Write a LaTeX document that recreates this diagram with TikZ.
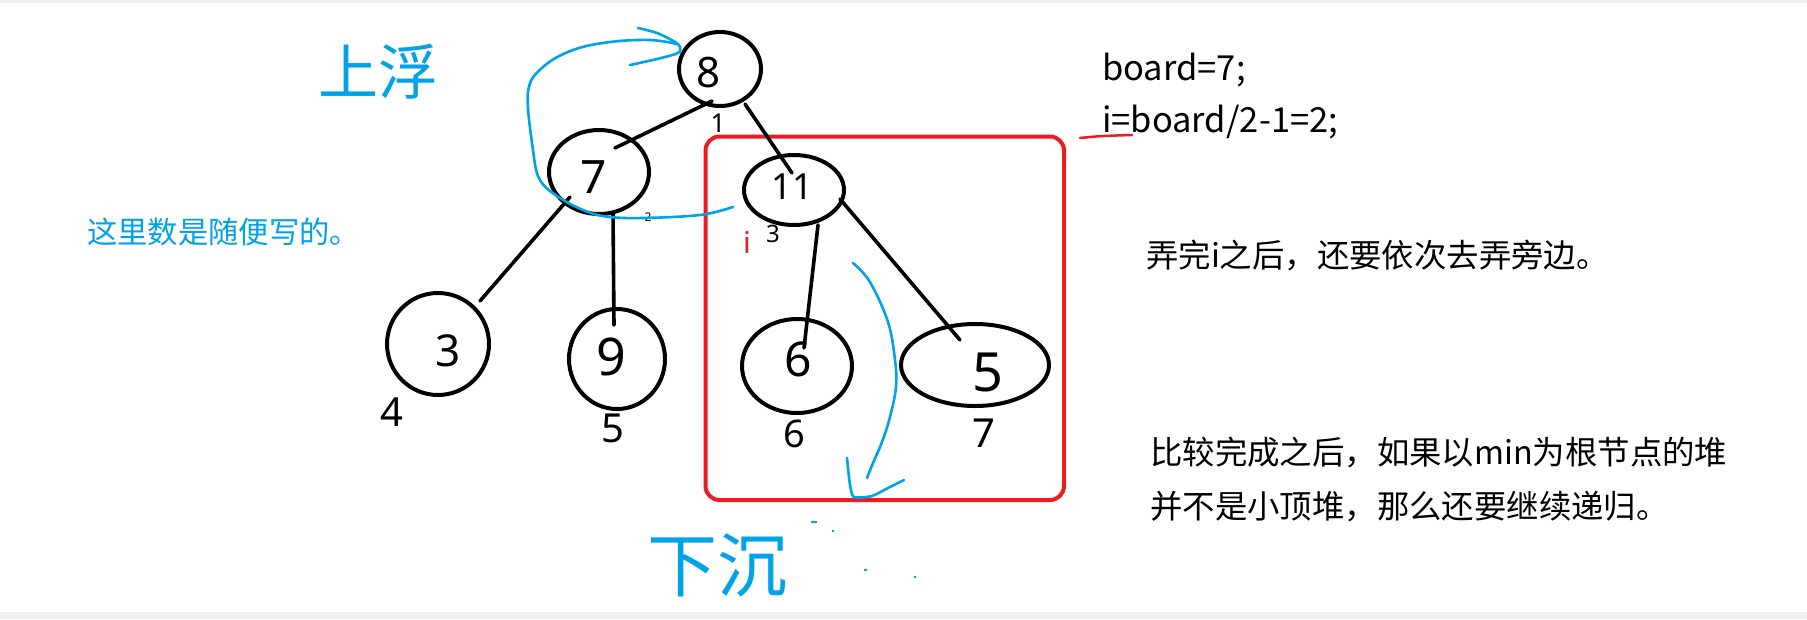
\documentclass[tikz,border=0pt]{standalone}
\usepackage{fontspec}
\setmainfont{Noto Sans CJK SC}
\newfontfamily\cjk{Noto Sans CJK SC}
\newfontfamily\hand{Noto Sans}
\usetikzlibrary{calc,shapes.geometric}
\definecolor{pblue}{HTML}{00A2E8}
\definecolor{pred}{HTML}{ED1C24}
\definecolor{pgray}{HTML}{F0F0F0}
\tikzset{
  heapnode/.style={draw, ellipse, line width=4pt, inner sep=0pt},
  tedge/.style={line width=3.6pt, line cap=round},
  bluepen/.style={pblue, line width=2.6pt, line cap=round, line join=round},
  digit/.style={inner sep=0pt, font=\hand\fontsize{#1}{#1}\selectfont},
  idx/.style={inner sep=0pt, font=\hand\fontsize{#1}{#1}\selectfont},
  txt/.style={inner sep=0pt, anchor=west, font=\cjk\fontsize{#1}{#1}\selectfont},
}
\begin{document}
\begin{tikzpicture}[x=1pt,y=-1pt]
\useasboundingbox (0,0) rectangle (1807,619);
\fill[white] (0,0) rectangle (1807,619);
\fill[pgray] (0,0) rectangle (1807,3);
\fill[pgray] (0,612) rectangle (1807,619);

% red box
\draw[pred, line width=4pt, rounded corners=14pt] (705.5,136.5) rectangle (1064,500);

% heap nodes
\node[heapnode, minimum width=82pt, minimum height=74pt] (n8) at (720,69) {};
\node[heapnode, minimum width=100pt, minimum height=84pt] (n7) at (599,172) {};
\node[heapnode, minimum width=100pt, minimum height=70pt] (n11) at (794,190) {};
\node[heapnode, minimum width=102pt, minimum height=102pt] (n3) at (438,344) {};
\node[heapnode, minimum width=96pt, minimum height=100pt] (n9) at (617,359) {};
\node[heapnode, minimum width=110pt, minimum height=94pt] (n6) at (797,366) {};
\node[heapnode, minimum width=148pt, minimum height=82pt] (n5) at (975,365) {};

% values
\node[digit=42] (t8) at (709,73) {8};
\node[digit=46] (t7) at (594,177) {7};
\node[digit=36] (t11) at (792,187) {11};
\node[digit=44] (t3) at (448,351) {3};
\node[digit=52] (t9) at (611,357) {9};
\node[digit=48] (t6) at (798,359) {6};
\node[digit=54] (t5) at (988,372) {5};

% edges
\draw[tedge] ($(n8)+(-8,32)$) -- ($(n7)+(16,-24)$);
\draw[tedge] ($(n8)+(25,35)$) -- ($(n11)+(-2,-17)$);
\draw[tedge] ($(n7)+(-29,25)$) -- ($(n3)+(42,-43)$);
\draw[tedge] ($(n7)+(14,41)$) -- ($(n9)+(-3,-34)$);
\draw[tedge] ($(n11)+(24,35)$) -- ($(n6)+(7,-18)$);
\draw[tedge] ($(n11)+(46,9)$) -- ($(n5)+(-15,-25)$);

% index labels
\node[idx=26] (i1) at (718,123) {1};
\node[idx=12] (i2) at (648,217) {2};
\node[idx=24] (i3) at (773,234) {3};
\node[idx=30, text=pred] (ir) at (747,242) {i};
\node[idx=40] (i4) at (392,412) {4};
\node[idx=40] (i5) at (613,428) {5};
\node[idx=38] (i6) at (794,434) {6};
\node[idx=40] (i7) at (984,433) {7};

% blue up-float arrow
\coordinate (upS) at (733,207);
\coordinate (upT) at (677,44);
\draw[bluepen] plot[smooth, tension=0.6] coordinates {(upS) (700,215) (643,218) (610,217) (588,212) (560,198) (540,180) (533,150) (528,92) (543,67) (573,50) (610,42) (650,40) (upT)};
\draw[bluepen] plot[smooth, tension=0.5] coordinates {(638,28) (657,33) (675,42) (680,47) (678,53) (657,59) (630,65)};

% blue down-sink arrow
\coordinate (dnS) at (853,263);
\coordinate (dnE) at (867,478);
\draw[bluepen] plot[smooth, tension=0.6] coordinates {(dnS) (870,282) (888,322) (895,360) (896,387) (890,417) (882,442) (873,463) (dnE)};
\draw[bluepen] plot[smooth, tension=0.4] coordinates {(847,458) (850,485) (854,497) (872,496) (888,488) (904,480)};

% specks
\draw[pblue, line width=1.5pt] (811,522) -- (817,522);
\draw[pblue, line width=1.5pt] (832,531) -- (834,531);
\draw[pblue, line width=1.5pt] (864,570) -- (867,570);
\draw[pblue, line width=1.5pt] (914,577) -- (916,577);

% handwritten labels
\node[txt=60, text=pblue] (up) at (318,72) {上浮};
\node[txt=70, text=pblue] (down) at (647,565) {下沉};
\node[txt=30.3, text=pblue] (note) at (87,232) {这里数是随便写的。};

% right text
\node[inner sep=0pt, anchor=base west, font=\cjk\fontsize{34.5}{34.5}\selectfont] (b1) at (1102,80) {board=7;};
\node[inner sep=0pt, anchor=base west, font=\cjk\fontsize{34.5}{34.5}\selectfont] (b2) at (1102,132) {i=board/2-1=2;};
\draw[pred, line width=2.5pt, line cap=round] (1080,138) .. controls (1100,136) .. (1132,135);
\node[txt=32.4] (s1) at (1146,255) {弄完i之后，还要依次去弄旁边。};
\node[txt=32.4] (s2) at (1150,452) {比较完成之后，如果以min为根节点的堆};
\node[txt=32.4] (s3) at (1150,507) {并不是小顶堆，那么还要继续递归。};
\end{tikzpicture}
\end{document}
